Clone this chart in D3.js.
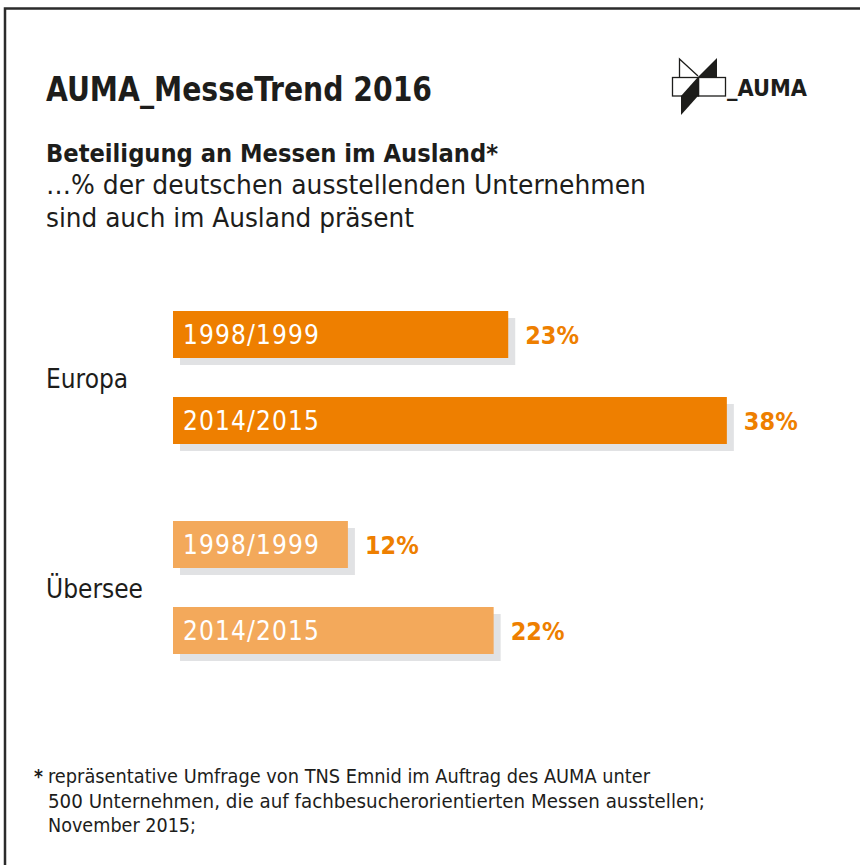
<!DOCTYPE html>
<html>
<head>
<meta charset="utf-8">
<script src="https://cdn.jsdelivr.net/npm/d3@7"></script>
<style>
  body { margin: 0; background: #fff; }
  svg text { font-family: "DejaVu Sans Condensed", "DejaVu Sans", sans-serif; font-stretch: condensed; }
</style>
</head>
<body>
<div id="chart"></div>
<script>
// Daten: Anteil der deutschen Aussteller mit Messebeteiligung im Ausland (%)
const regions = ["Europa", "Übersee"];
const periods = ["1998/1999", "2014/2015"];
const europaValues = [23, 38];
const ueberseeValues = [12, 22];

const titleText = "AUMA_MesseTrend 2016";
const subtitleBold = "Beteiligung an Messen im Ausland*";
const subtitleLines = ["…% der deutschen ausstellenden Unternehmen", "sind auch im Ausland präsent"];
const footnoteLines = [
    "repräsentative Umfrage von TNS Emnid im Auftrag des AUMA unter",
    "500 Unternehmen, die auf fachbesucherorientierten Messen ausstellen;",
    "November 2015;"
];

const data = [];
regions.forEach((r, i) => {
    const vals = i === 0 ? europaValues : ueberseeValues;
    periods.forEach((p, j) => data.push({ region: r, period: p, value: vals[j] }));
});

const width = 860, height = 865;
const svg = d3.select('#chart').append('svg')
    .attr('width', width).attr('height', height);

// Rahmen (rechts/unten abgeschnitten)
svg.append('rect').attr('x', 5).attr('y', 8.5)
    .attr('width', 900).attr('height', 900)
    .attr('fill', 'none').attr('stroke', '#2b2b2b').attr('stroke-width', 2.5);

// Kopf
svg.append('text').attr('x', 46).attr('y', 101)
    .attr('font-size', 33).attr('font-weight', 'bold').attr('fill', '#1d1d1b')
    .attr('textLength', 386).attr('lengthAdjust', 'spacingAndGlyphs')
    .text(titleText);

svg.append('text').attr('x', 46).attr('y', 162)
    .attr('font-size', 25).attr('font-weight', 'bold').attr('fill', '#1d1d1b')
    .attr('textLength', 452).attr('lengthAdjust', 'spacingAndGlyphs')
    .text(subtitleBold);

const subLens = [600, 368];
subtitleLines.forEach((t, i) => {
    svg.append('text').attr('x', 46).attr('y', 194 + i * 33)
        .attr('font-size', 26).attr('fill', '#1d1d1b')
        .attr('textLength', subLens[i]).attr('lengthAdjust', 'spacingAndGlyphs')
        .text(t);
});

// Logo
const logo = svg.append('g').attr('class', 'logo');
logo.append('polygon').attr('points', '717,58 717,77 698,77').attr('fill', '#1d1d1b');
logo.append('polygon').attr('points', '698,77 698,96 681,115 681,96').attr('fill', '#1d1d1b');
logo.append('rect').attr('x', 672.5).attr('y', 77.5).attr('width', 26).attr('height', 18.5)
    .attr('fill', 'none').attr('stroke', '#1d1d1b').attr('stroke-width', 1.3);
logo.append('rect').attr('x', 698.5).attr('y', 77.5).attr('width', 27).attr('height', 18.5)
    .attr('fill', 'none').attr('stroke', '#1d1d1b').attr('stroke-width', 1.3);
logo.append('path').attr('d', 'M679.5,77 L679.5,59 L698,76')
    .attr('fill', 'none').attr('stroke', '#1d1d1b').attr('stroke-width', 1.3);
logo.append('text').attr('x', 727).attr('y', 96)
    .attr('font-size', 23).attr('font-weight', 'bold').attr('fill', '#1d1d1b')
    .attr('textLength', 80).attr('lengthAdjust', 'spacingAndGlyphs')
    .text('_AUMA');

// Skalen
const x0 = 173;
const x = d3.scaleLinear().domain([0, 40]).range([0, 583]);
const yGroup = d3.scaleBand().domain(regions).range([311, 654]).paddingInner(77 / 210);
const yBar = d3.scaleBand().domain(periods).range([0, yGroup.bandwidth()]).paddingInner(39 / 86);

const fillColor = { "Europa": "#ee7f00", "Übersee": "#f3a95b" };

const groups = svg.selectAll('.group').data(regions).join('g')
    .attr('class', 'group')
    .attr('transform', d => `translate(0,${yGroup(d)})`);

groups.append('text').attr('x', 46)
    .attr('y', yGroup.bandwidth() / 2 + 10)
    .attr('font-size', 26).attr('fill', '#1d1d1b')
    .text(d => d);

const bars = groups.selectAll('.bar').data(r => data.filter(d => d.region === r)).join('g')
    .attr('class', 'bar')
    .attr('transform', d => `translate(${x0},${yBar(d.period)})`);

// Schatten
bars.append('rect').attr('x', 7).attr('y', 7)
    .attr('width', d => x(d.value)).attr('height', yBar.bandwidth())
    .attr('fill', '#e1e2e4');

bars.append('rect').attr('x', 0).attr('y', 0)
    .attr('width', d => x(d.value)).attr('height', yBar.bandwidth())
    .attr('fill', d => fillColor[d.region]);

bars.append('text').attr('x', 10).attr('y', 33)
    .attr('font-size', 26).attr('fill', '#fff')
    .attr('textLength', 136).attr('lengthAdjust', 'spacing')
    .text(d => d.period);

bars.append('text').attr('x', d => x(d.value) + 17).attr('y', 33)
    .attr('font-size', 25).attr('font-weight', 'bold').attr('fill', '#ee7f00')
    .text(d => d.value + '%');

// Fußnote
svg.append('text').attr('x', 34).attr('y', 783)
    .attr('font-size', 19).attr('font-weight', 'bold').attr('fill', '#1d1d1b').text('*');
const footLens = [602, 657, 148];
footnoteLines.forEach((t, i) => {
    svg.append('text').attr('x', 48).attr('y', 783 + i * 24.5)
        .attr('font-size', 19).attr('fill', '#1d1d1b')
        .attr('textLength', footLens[i]).attr('lengthAdjust', 'spacingAndGlyphs')
        .text(t);
});
</script>
</body>
</html>
